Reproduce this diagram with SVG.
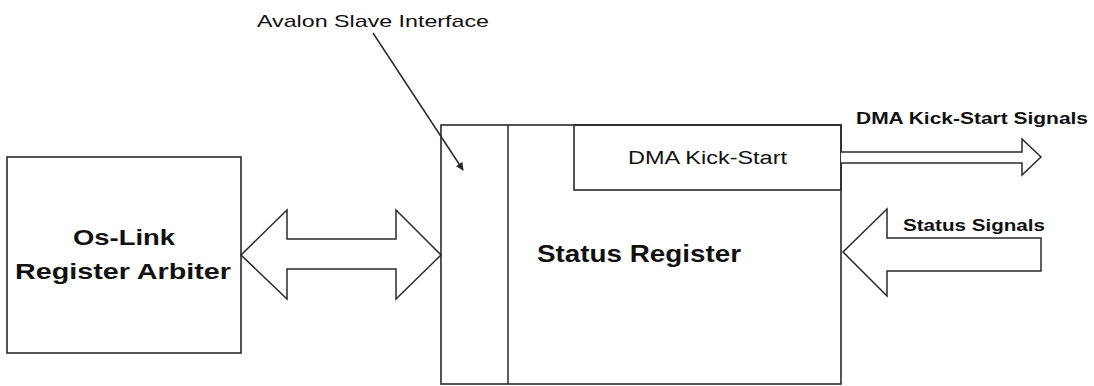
<svg xmlns="http://www.w3.org/2000/svg" width="1094" height="386" viewBox="0 0 1094 386">
<defs>
<style>
.box{fill:none;stroke:#2a2a2a;stroke-width:1.6}
.conn{fill:#fff;stroke:#2a2a2a;stroke-width:1.5;stroke-linejoin:miter}
.ln{fill:none;stroke:#2a2a2a;stroke-width:1.5}
.t{font-family:"Liberation Sans",Arial,sans-serif;fill:#111}
.b{font-weight:bold}
</style>
<marker id="ah" viewBox="0 0 10 10" refX="9" refY="5" markerWidth="8" markerHeight="8" markerUnits="userSpaceOnUse" orient="auto">
<path d="M0,0 L10,5 L0,10 z" fill="#2a2a2a"/>
</marker>
</defs>
<rect width="1094" height="386" fill="#fff"/>
<g id="arbiter">
<rect class="box" x="7" y="157" width="234" height="196"/>
<text class="t b" x="124" y="245" font-size="22" text-anchor="middle" textLength="102" lengthAdjust="spacingAndGlyphs">Os-Link</text>
<text class="t b" x="123" y="279" font-size="22" text-anchor="middle" textLength="216" lengthAdjust="spacingAndGlyphs">Register Arbiter</text>
</g>
<g id="status-register">
<rect class="box" x="441" y="125" width="400" height="259"/>
<line class="ln" x1="508" y1="125" x2="508" y2="384"/>
<text class="t b" x="537" y="262" font-size="23" textLength="204" lengthAdjust="spacingAndGlyphs">Status Register</text>
</g>
<g id="dma-kick-start">
<rect class="box" x="574" y="125" width="267" height="65"/>
<text class="t" x="628" y="164" font-size="18" textLength="159" lengthAdjust="spacingAndGlyphs">DMA Kick-Start</text>
</g>
<g id="labels">
<text class="t" x="257" y="27" font-size="17" textLength="232" lengthAdjust="spacingAndGlyphs">Avalon Slave Interface</text>
<text class="t b" x="856" y="124" font-size="17" textLength="232" lengthAdjust="spacingAndGlyphs">DMA Kick-Start Signals</text>
<text class="t b" x="903" y="231" font-size="17" textLength="142" lengthAdjust="spacingAndGlyphs">Status Signals</text>
</g>
<g id="connectors">
<polygon class="conn" points="241,255 287,210 287,239 396,239 396,210 441,255 396,299 396,269 287,269 287,299"/>
<polyline class="conn" points="841,152 1022,152 1022,139 1041,157 1022,175 1022,163 841,163"/>
<polygon class="conn" points="1041,238 887,238 887,209 843,252 887,296 887,271 1041,271"/>
<line class="ln" x1="373" y1="33" x2="463" y2="170" marker-end="url(#ah)"/>
</g>
</svg>
